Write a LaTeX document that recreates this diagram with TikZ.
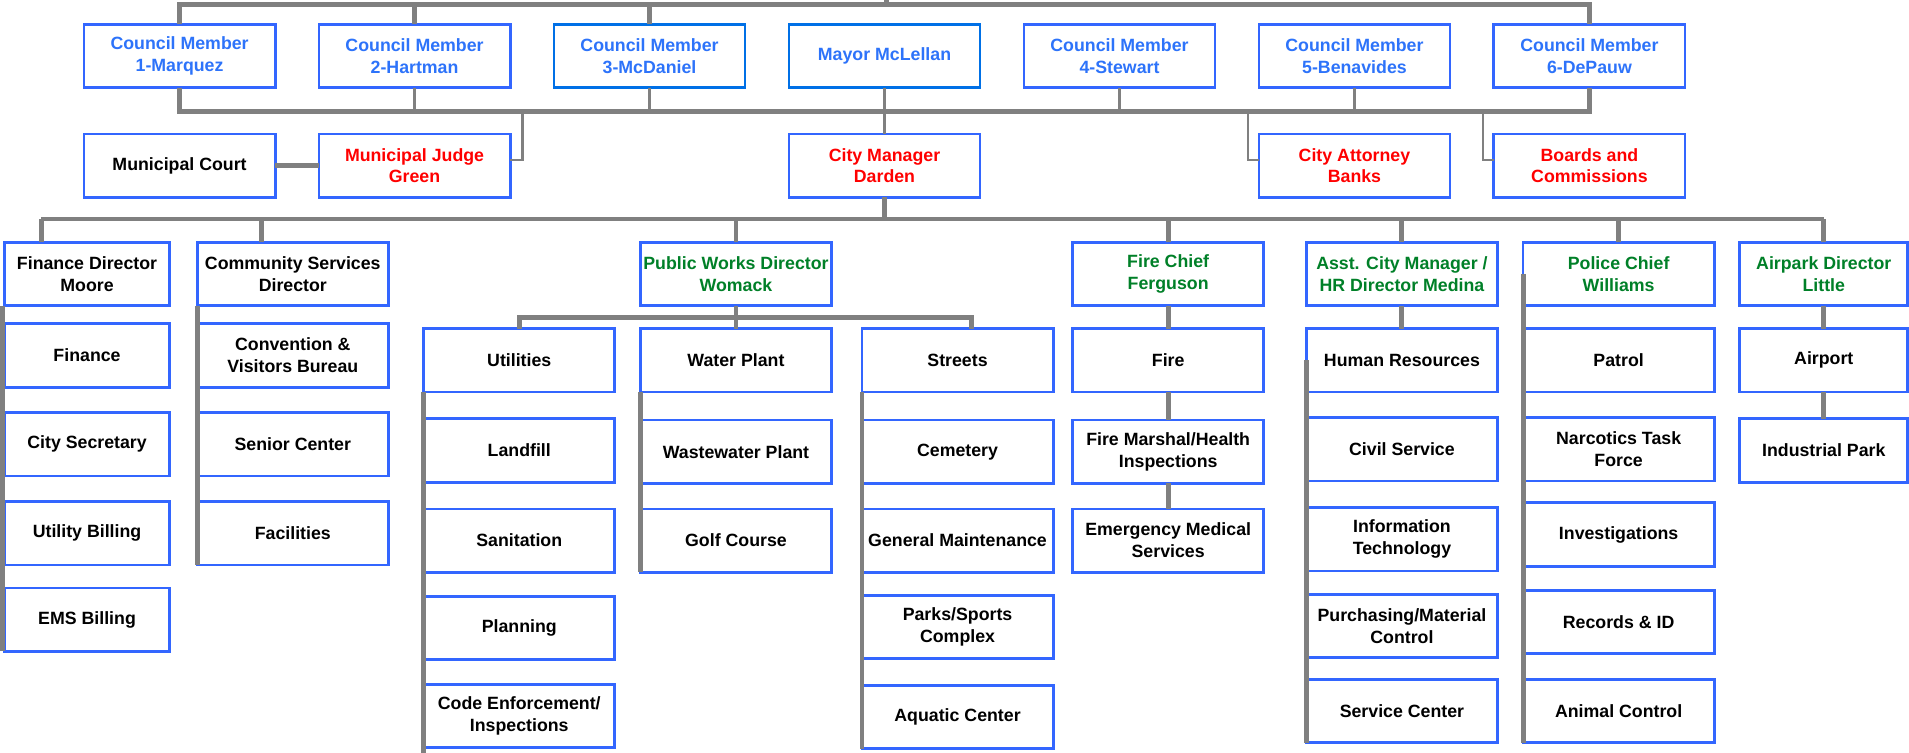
\documentclass[tikz,border=0pt]{standalone}
\usepackage{fontspec}
\setmainfont{Liberation Sans}
\usetikzlibrary{positioning}
\definecolor{boxblue}{RGB}{51,102,255}
\definecolor{mayorblue}{RGB}{0,112,230}
\definecolor{councilblue}{RGB}{45,115,250}
\definecolor{leadgreen}{RGB}{0,128,40}
\definecolor{linegray}{RGB}{128,128,128}
\tikzset{
  % Boxes
  unit/.style     = { draw=boxblue, line width=1.3pt, fill=white, outer sep=0pt,
                      minimum width=3.14cm, minimum height=1.04cm, inner sep=1pt,
                      align=center, font=\fontsize{8.3}{10.2}\selectfont\bfseries },
  council/.style  = { unit, text=councilblue },
  elected/.style  = { unit, text=red },
  director/.style = { unit, text=leadgreen },
  narrowunit/.style = { unit, minimum width=2.70cm },
  airunit/.style  = { unit, minimum width=2.76cm },
  % Connectors
  trunk/.style = { draw=linegray, line width=2.3pt },
  bus/.style   = { draw=linegray, line width=1.8pt },
  twig/.style  = { draw=linegray, line width=1.2pt }
}

\begin{document}
\begin{tikzpicture}
  \useasboundingbox (0,0) rectangle (31.36,-12.36);

  % Council and mayor
  \node[council] (cm1) at (2.95,-0.92) {Council Member\\1-Marquez};
  \node[council, right=0.72cm of cm1] (cm2) {Council Member\\2-Hartman};
  \node[council, draw=mayorblue, right=0.72cm of cm2] (cm3) {Council Member\\3-McDaniel};
  \node[council, draw=mayorblue, right=0.72cm of cm3] (mayor) {Mayor McLellan};
  \node[council, right=0.72cm of mayor] (cm4) {Council Member\\4-Stewart};
  \node[council, right=0.72cm of cm4] (cm5) {Council Member\\5-Benavides};
  \node[council, right=0.72cm of cm5] (cm6) {Council Member\\6-DePauw};

  % Appointed by council
  \node[unit, below=0.76cm of cm1] (court) {Municipal Court};
  \node[elected, below=0.76cm of cm2] (judge) {Municipal Judge\\Green};
  \node[elected, below=0.76cm of mayor] (manager) {City Manager\\Darden};
  \node[elected, below=0.76cm of cm5] (attorney) {City Attorney\\Banks};
  \node[elected, below=0.76cm of cm6] (boards) {Boards and\\Commissions};

  % Department heads
  \node[narrowunit] (findir) at (1.43,-4.5) {Finance Director\\Moore};
  \node[unit, right=0.46cm of findir] (csdir) {Community Services\\Director};
  \node[director, right=4.14cm of csdir] (pwdir) {Public Works Director\\Womack};
  \node[director, right=3.96cm of pwdir] (firedir) {Fire Chief\\Ferguson};
  \node[director, right=0.70cm of firedir] (hrdir) {Asst. City Manager /\\HR Director Medina};
  \node[director, right=0.42cm of hrdir] (policedir) {Police Chief\\Williams};
  \node[director, minimum width=2.76cm, right=0.42cm of policedir] (airdir) {Airpark Director\\Little};

  % Finance
  \node[narrowunit, below=0.30cm of findir] (finance) {Finance};
  \node[narrowunit, below=0.42cm of finance] (secretary) {City Secretary};
  \node[narrowunit, below=0.42cm of secretary] (utilbill) {Utility Billing};
  \node[narrowunit, below=0.38cm of utilbill] (emsbill) {EMS Billing};

  % Community services
  \node[unit, below=0.30cm of csdir] (cvb) {Convention \&\\Visitors Bureau};
  \node[unit, below=0.42cm of cvb] (senior) {Senior Center};
  \node[unit, below=0.42cm of senior] (facilities) {Facilities};

  % Public works
  \node[unit, below=0.38cm of pwdir] (water) {Water Plant};
  \node[unit, below=0.46cm of water] (wastewater) {Wastewater Plant};
  \node[unit, below=0.42cm of wastewater] (golf) {Golf Course};
  \node[unit, left=0.42cm of water] (utilities) {Utilities};
  \node[unit, below=0.44cm of utilities] (landfill) {Landfill};
  \node[unit, below=0.44cm of landfill] (sanitation) {Sanitation};
  \node[unit, below=0.40cm of sanitation] (planning) {Planning};
  \node[unit, below=0.40cm of planning] (codeenf) {Code Enforcement/\\Inspections};
  \node[unit, right=0.50cm of water] (streets) {Streets};
  \node[unit, below=0.46cm of streets] (cemetery) {Cemetery};
  \node[unit, below=0.42cm of cemetery] (genmaint) {General Maintenance};
  \node[unit, below=0.38cm of genmaint] (parks) {Parks/Sports\\Complex};
  \node[unit, below=0.44cm of parks] (aquatic) {Aquatic Center};

  % Fire
  \node[unit, below=0.38cm of firedir] (fire) {Fire};
  \node[unit, below=0.46cm of fire] (marshal) {Fire Marshal/Health\\Inspections};
  \node[unit, below=0.42cm of marshal] (emsvc) {Emergency Medical\\Services};

  % Human resources
  \node[unit, below=0.38cm of hrdir] (hr) {Human Resources};
  \node[unit, below=0.42cm of hr] (civil) {Civil Service};
  \node[unit, below=0.44cm of civil] (infotech) {Information\\Technology};
  \node[unit, below=0.38cm of infotech] (purchasing) {Purchasing/Material\\Control};
  \node[unit, below=0.36cm of purchasing] (svccenter) {Service Center};

  % Police
  \node[unit, below=0.38cm of policedir] (patrol) {Patrol};
  \node[unit, below=0.42cm of patrol] (narcotics) {Narcotics Task\\Force};
  \node[unit, below=0.36cm of narcotics] (investig) {Investigations};
  \node[unit, below=0.40cm of investig] (records) {Records \& ID};
  \node[unit, below=0.42cm of records] (animal) {Animal Control};

  % Airpark
  \node[airunit, below=0.38cm of airdir] (airport) {Airport};
  \node[airunit, below=0.44cm of airport] (induspark) {Industrial Park};

  % Top bus
  \coordinate (bus1) at (0,-0.08);
  \coordinate (citizens) at (14.56,0.4);
  \draw[trunk] (cm1.north) |- (bus1 -| cm6.north) -- (cm6.north);
  \foreach \m in {cm2,cm3} \draw[trunk] (\m.north) -- (\m.north |- bus1);
  \draw[trunk] (citizens |- bus1) -- (citizens);

  % Council bus
  \coordinate (bus2) at (0,-1.83);
  \draw[trunk] (cm1.south) |- (bus2 -| cm6.south) -- (cm6.south);
  \foreach \m in {cm2,cm3,cm4,cm5} \draw[twig] (\m.south) -- (\m.south |- bus2);
  \draw[twig] (mayor) -- (manager);
  \draw[twig] ([xshift=0.2cm]judge.east |- bus2) |- ([yshift=0.09cm]judge.east);
  \draw[twig] ([xshift=-0.18cm]attorney.west |- bus2) |- ([yshift=0.09cm]attorney.west);
  \draw[twig] ([xshift=-0.18cm]boards.west |- bus2) |- ([yshift=0.09cm]boards.west);
  \draw[trunk] (court) -- (judge);

  % Department bus
  \coordinate (bus3) at (0,-3.60);
  \draw[trunk] (manager.south) -- (manager.south |- bus3);
  \draw[bus] ([xshift=-0.75cm]findir.north |- bus3) -- (airdir.north |- bus3);
  \draw[trunk] ([xshift=-0.75cm]findir.north) -- ([xshift=-0.75cm]findir.north |- bus3);
  \draw[trunk] ([xshift=-0.51cm]csdir.north) -- ([xshift=-0.51cm]csdir.north |- bus3);
  \foreach \d in {pwdir,firedir,hrdir,policedir,airdir}
    \draw[trunk] (\d.north) -- (\d.north |- bus3);

  % Finance and community services
  \draw[trunk] ([xshift=-0.04cm]findir.south west) -- ([xshift=-0.04cm]emsbill.south west);
  \draw[trunk] (csdir.south west) -- (facilities.south west);

  % Public works
  \coordinate (bus4) at (0,-5.22);
  \draw[trunk] (pwdir.south) -- (pwdir.south |- bus4);
  \draw[trunk] (utilities.north) |- ([xshift=0.23cm]streets.north |- bus4) -- ([xshift=0.23cm]streets.north);
  \draw[trunk] (water.north) -- (water.north |- bus4);
  \draw[trunk] (utilities.south west) -- ([yshift=-0.1cm]codeenf.south west);
  \draw[trunk] (water.south west) -- (golf.south west);
  \draw[trunk] (streets.south west) -- (aquatic.south west);

  % Fire, HR, police, airpark
  \draw[trunk] (firedir) -- (fire);
  \draw[trunk] (fire) -- (marshal);
  \draw[trunk] (marshal) -- (emsvc);
  \draw[trunk] (hrdir) -- (hr);
  \draw[trunk] (hr.west) -- (svccenter.south west);
  \draw[trunk] (policedir.west) -- (animal.south west);
  \draw[trunk] (airdir) -- (airport);
  \draw[trunk] (airport) -- (induspark);
\end{tikzpicture}
\end{document}
